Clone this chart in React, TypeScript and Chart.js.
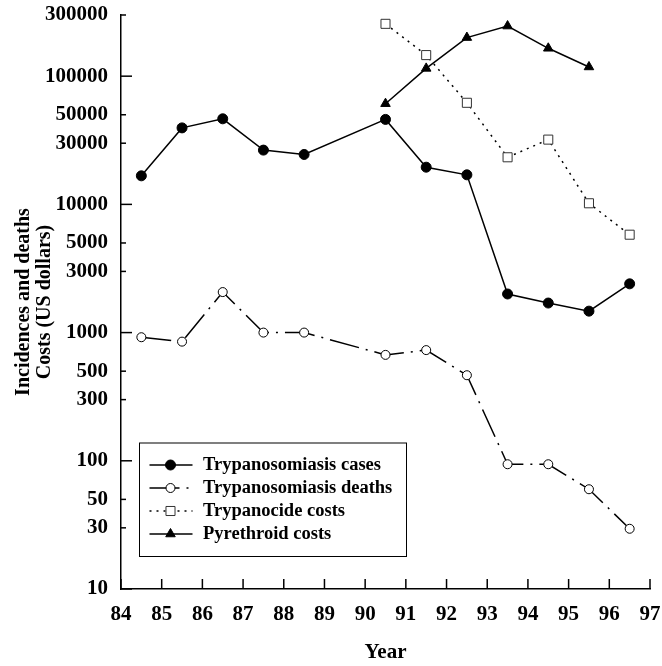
import React, { useEffect, useRef } from 'react';
import { Chart, registerables } from 'chart.js';

Chart.register(...registerables);

const FONT = "'Liberation Serif', 'Times New Roman', Times, serif";

// Axis ticks
const xTicks = [84, 85, 86, 87, 88, 89, 90, 91, 92, 93, 94, 95, 96, 97];
const yTicks = [10, 30, 50, 100, 300, 500, 1000, 3000, 5000, 10000, 30000, 50000, 100000, 300000];
const yMajorTicks = [10, 100, 1000, 10000, 100000];

// Titles / labels
const xTitle = 'Year';
const yTitle = ['Incidences and deaths', 'Costs (US dollars)'];
const seriesLabels = [
  'Trypanosomiasis cases',
  'Trypanosomiasis deaths',
  'Trypanocide costs',
  'Pyrethroid costs',
];

// Series
const casesYears = [84.5, 85.5, 86.5, 87.5, 88.5, 90.5, 91.5, 92.5, 93.5, 94.5, 95.5, 96.5];
const casesValues = [16700, 39500, 46500, 26500, 24500, 46000, 19500, 17000, 2000, 1700, 1470, 2400];

const deathsYears = [84.5, 85.5, 86.5, 87.5, 88.5, 90.5, 91.5, 92.5, 93.5, 94.5, 95.5, 96.5];
const deathsValues = [920, 850, 2070, 1000, 1000, 670, 730, 465, 94, 94, 60, 29.5];

const trypanocideYears = [90.5, 91.5, 92.5, 93.5, 94.5, 95.5, 96.5];
const trypanocideValues = [256000, 146000, 62000, 23300, 32000, 10200, 5800];

const pyrethroidYears = [90.5, 91.5, 92.5, 93.5, 94.5, 95.5];
const pyrethroidValues = [61000, 115000, 200000, 246000, 165000, 118000];

const toPoints = (xs: number[], ys: number[]) => xs.map((x, i) => ({ x, y: ys[i] }));

function drawMarker(
  ctx: CanvasRenderingContext2D,
  style: string,
  x: number,
  y: number,
  r: number,
  fill: string,
  stroke: string,
  lw: number
) {
  ctx.beginPath();
  if (style === 'rect') {
    const s = r * Math.SQRT1_2;
    ctx.rect(x - s, y - s, 2 * s, 2 * s);
  } else if (style === 'triangle') {
    let rad = 0;
    ctx.moveTo(x + Math.sin(rad) * r, y - Math.cos(rad) * r);
    rad += (2 * Math.PI) / 3;
    ctx.lineTo(x + Math.sin(rad) * r, y - Math.cos(rad) * r);
    rad += (2 * Math.PI) / 3;
    ctx.lineTo(x + Math.sin(rad) * r, y - Math.cos(rad) * r);
    ctx.closePath();
  } else {
    ctx.arc(x, y, r, 0, Math.PI * 2);
  }
  ctx.fillStyle = fill;
  ctx.fill();
  ctx.lineWidth = lw;
  ctx.strokeStyle = stroke;
  ctx.stroke();
}

const tickMarksPlugin = {
  id: 'tickMarks',
  beforeDatasetsDraw(chart: any) {
    const { ctx, chartArea, scales } = chart;
    const { left, bottom } = chartArea;
    ctx.save();
    ctx.strokeStyle = '#000';
    ctx.lineWidth = 1.5;
    xTicks.forEach((v) => {
      const px = scales.x.getPixelForValue(v);
      ctx.beginPath();
      ctx.moveTo(px, bottom);
      ctx.lineTo(px, bottom - 10);
      ctx.stroke();
    });
    yTicks.forEach((v) => {
      const py = scales.y.getPixelForValue(v);
      const len = yMajorTicks.includes(v) ? 11 : 5;
      ctx.beginPath();
      ctx.moveTo(left, py);
      ctx.lineTo(left + len, py);
      ctx.stroke();
    });
    ctx.restore();
  },
};

const boxLegendPlugin = {
  id: 'boxLegend',
  afterDraw(chart: any) {
    const { ctx, chartArea } = chart;
    const bx = chartArea.left + 18;
    const by = chartArea.top + 427.5;
    const bw = 267;
    const bh = 113.5;
    ctx.save();
    ctx.fillStyle = '#fff';
    ctx.fillRect(bx, by, bw, bh);
    ctx.strokeStyle = '#000';
    ctx.lineWidth = 1;
    ctx.strokeRect(bx + 0.5, by + 0.5, bw, bh);
    chart.data.datasets.forEach((ds: any, i: number) => {
      const y = by + 22.5 + i * 23;
      ctx.save();
      ctx.strokeStyle = ds.borderColor;
      ctx.lineWidth = ds.borderWidth;
      ctx.setLineDash(ds.borderDash || []);
      ctx.beginPath();
      ctx.moveTo(bx + 10.5, y);
      ctx.lineTo(bx + 53.5, y);
      ctx.stroke();
      ctx.restore();
      drawMarker(
        ctx,
        ds.pointStyle,
        bx + 31.5,
        y,
        ds.pointRadius,
        ds.pointBackgroundColor,
        ds.pointBorderColor,
        ds.pointBorderWidth
      );
      ctx.fillStyle = '#000';
      ctx.font = `bold 18.5px ${FONT}`;
      ctx.textAlign = 'left';
      ctx.textBaseline = 'middle';
      ctx.fillText(ds.label, bx + 64, y);
    });
    ctx.restore();
  },
};

export default function App() {
  const ref = useRef<HTMLCanvasElement>(null);

  useEffect(() => {
    if (!ref.current) return;
    const tickFontX = { family: FONT, size: 21, weight: 'bold' as const };
    const tickFontY = { family: FONT, size: 21, weight: 'bold' as const };
    const chart = new Chart(ref.current, {
      type: 'line',
      data: {
        datasets: [
          {
            label: seriesLabels[0],
            data: toPoints(casesYears, casesValues),
            borderColor: '#000',
            backgroundColor: '#000',
            borderWidth: 1.5,
            pointStyle: 'circle',
            pointRadius: 5,
            pointBackgroundColor: '#000',
            pointBorderColor: '#000',
            pointBorderWidth: 1,
            tension: 0,
            fill: false,
          },
          {
            label: seriesLabels[1],
            data: toPoints(deathsYears, deathsValues),
            borderColor: '#000',
            backgroundColor: '#fff',
            borderWidth: 1.5,
            borderDash: [30, 7, 2, 7],
            pointStyle: 'circle',
            pointRadius: 4.5,
            pointBackgroundColor: '#fff',
            pointBorderColor: '#000',
            pointBorderWidth: 1,
            tension: 0,
            fill: false,
          },
          {
            label: seriesLabels[2],
            data: toPoints(trypanocideYears, trypanocideValues),
            borderColor: '#000',
            backgroundColor: '#fff',
            borderWidth: 1.5,
            borderDash: [2, 5],
            pointStyle: 'rect',
            pointRadius: 6.4,
            pointBackgroundColor: '#fff',
            pointBorderColor: '#333',
            pointBorderWidth: 1,
            tension: 0,
            fill: false,
          },
          {
            label: seriesLabels[3],
            data: toPoints(pyrethroidYears, pyrethroidValues),
            borderColor: '#000',
            backgroundColor: '#000',
            borderWidth: 1.5,
            pointStyle: 'triangle',
            pointRadius: 5.5,
            pointBackgroundColor: '#000',
            pointBorderColor: '#000',
            pointBorderWidth: 1,
            tension: 0,
            fill: false,
          },
        ] as any,
      },
      options: {
        animation: false,
        responsive: false,
        events: [],
        layout: { padding: { top: 15, right: 12, bottom: 0, left: 0 } },
        plugins: {
          legend: { display: false },
          tooltip: { enabled: false },
        },
        scales: {
          x: {
            type: 'linear',
            min: 84,
            max: 97,
            afterBuildTicks: (s: any) => {
              s.ticks = xTicks.map((v) => ({ value: v }));
            },
            afterFit: (s: any) => {
              s.height = 77;
              s.paddingLeft = 0;
              s.paddingRight = 0;
            },
            grid: { display: false, drawTicks: false },
            border: { display: true, color: '#000', width: 1.5 },
            ticks: {
              padding: 13,
              color: '#000',
              font: tickFontX,
              autoSkip: false,
              maxRotation: 0,
              callback: (v: any) => String(v),
            },
            title: {
              display: true,
              text: xTitle,
              color: '#000',
              font: { family: FONT, size: 21, weight: 'bold' },
              padding: { top: 0, bottom: 0.5 },
            },
          },
          y: {
            type: 'logarithmic',
            min: 10,
            max: 300000,
            afterBuildTicks: (s: any) => {
              s.ticks = yTicks.map((v) => ({ value: v }));
            },
            afterFit: (s: any) => {
              s.width = 121;
              s.paddingTop = 0;
              s.paddingBottom = 0;
            },
            grid: { display: false, drawTicks: false },
            border: { display: true, color: '#000', width: 1.5 },
            ticks: {
              padding: 13,
              color: '#000',
              font: tickFontY,
              autoSkip: false,
              callback: (v: any) => String(v),
            },
            title: {
              display: true,
              text: yTitle,
              color: '#000',
              font: { family: FONT, size: 20, weight: 'bold', lineHeight: 1.05 },
              padding: { top: 13.5, bottom: 0 },
            },
          },
        } as any,
      },
      plugins: [tickMarksPlugin, boxLegendPlugin],
    });
    return () => chart.destroy();
  }, []);

  return (
    <div style={{ position: 'absolute', left: 0, top: 0, width: 662, height: 666, background: '#fff' }}>
      <canvas ref={ref} width={662} height={666} style={{ display: 'block' }} />
    </div>
  );
}
